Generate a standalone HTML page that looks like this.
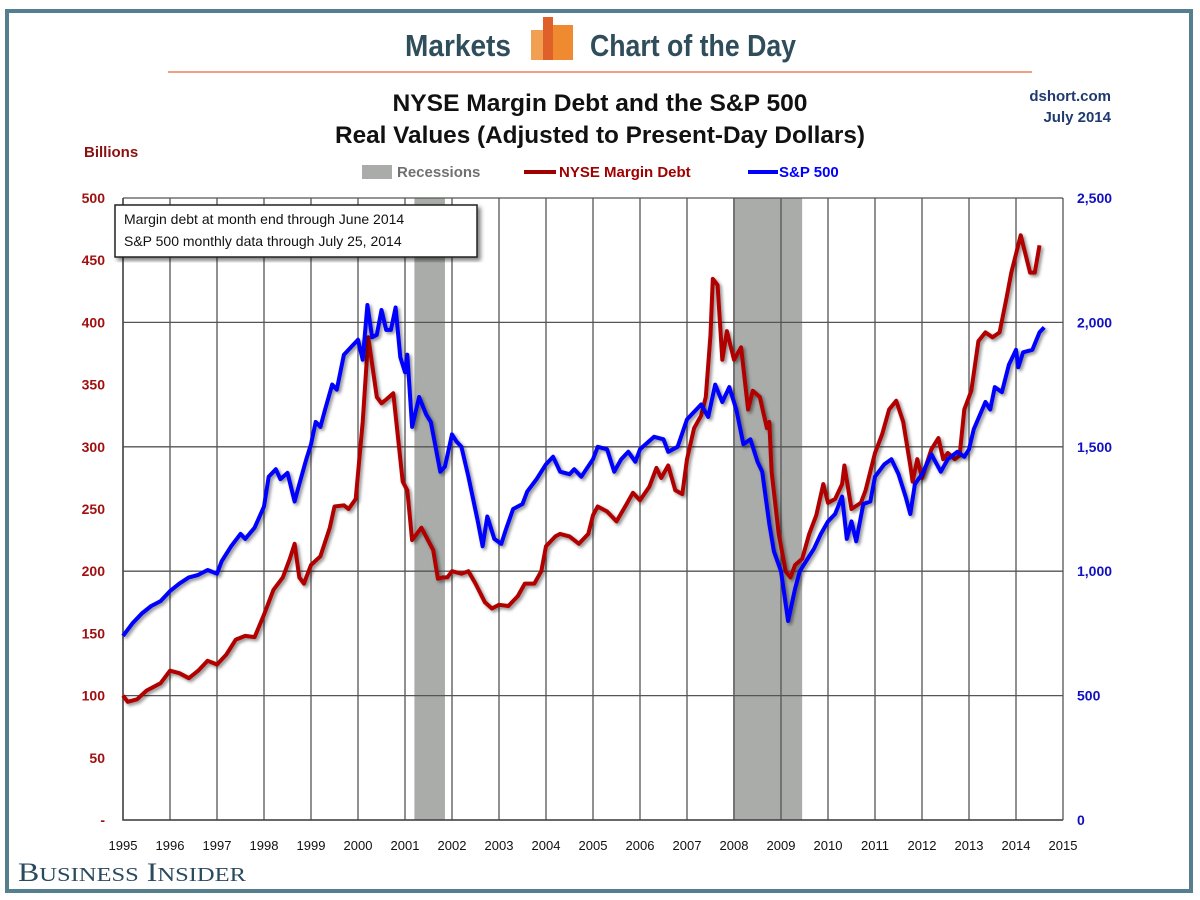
<!DOCTYPE html>
<html><head><meta charset="utf-8"><style>
html,body{margin:0;padding:0;background:#fff;}
svg{display:block;font-family:"Liberation Sans",sans-serif;}
</style></head><body>
<svg id="chart" width="1200" height="900" viewBox="0 0 1200 900" xmlns="http://www.w3.org/2000/svg">
<defs>
<filter id="sh" x="-5%" y="-5%" width="110%" height="110%"><feDropShadow dx="2" dy="2" stdDeviation="1.5" flood-color="#000" flood-opacity="0.45"/></filter>
<filter id="bsh"><feDropShadow dx="3" dy="3" stdDeviation="2" flood-color="#000" flood-opacity="0.5"/></filter>
</defs>
<rect x="7" y="11" width="1184" height="880" fill="#fff" stroke="#557f8f" stroke-width="4"/>
<text x="458" y="56" font-size="31" font-weight="bold" fill="#2f4d5a" text-anchor="middle" textLength="106" lengthAdjust="spacingAndGlyphs">Markets</text>
<g>
<rect x="531" y="30" width="18" height="30" fill="#f0a050"/>
<rect x="543" y="17" width="10" height="43" fill="#e0602a"/>
<rect x="553" y="25" width="20" height="35" fill="#f08a30"/>
</g>
<text x="693" y="56" font-size="31" font-weight="bold" fill="#2f4d5a" text-anchor="middle" textLength="206" lengthAdjust="spacingAndGlyphs">Chart of the Day</text>
<line x1="168" y1="72" x2="1032" y2="72" stroke="#f0a080" stroke-width="2"/>
<text x="600" y="111" font-size="24" font-weight="bold" fill="#111" text-anchor="middle" textLength="415" lengthAdjust="spacingAndGlyphs">NYSE Margin Debt and the S&amp;P 500</text>
<text x="600" y="143" font-size="24" font-weight="bold" fill="#111" text-anchor="middle" textLength="530" lengthAdjust="spacingAndGlyphs">Real Values (Adjusted to Present-Day Dollars)</text>
<text x="1111" y="101" font-size="15" font-weight="bold" fill="#1f3a6e" text-anchor="end">dshort.com</text>
<text x="1111" y="122" font-size="15" font-weight="bold" fill="#1f3a6e" text-anchor="end">July 2014</text>
<text x="84" y="157" font-size="15" font-weight="bold" fill="#8b1010">Billions</text>
<g>
<rect x="362" y="165" width="30" height="14" fill="#a9aca8"/>
<text x="397" y="177" font-size="15" font-weight="bold" fill="#707070">Recessions</text>
<line x1="524" y1="172" x2="556" y2="172" stroke="#a00000" stroke-width="4"/>
<text x="559" y="177" font-size="15" font-weight="bold" fill="#a00000">NYSE Margin Debt</text>
<line x1="748" y1="172" x2="778" y2="172" stroke="#0000ff" stroke-width="4"/>
<text x="779" y="177" font-size="15" font-weight="bold" fill="#0000ff">S&amp;P 500</text>
</g>
<g id="plot"></g>
<g>
<rect x="115" y="205" width="362" height="52" fill="#fff" stroke="#222" stroke-width="1.5" filter="url(#bsh)"/>
<text x="124" y="224" font-size="14" fill="#111">Margin debt at month end through June 2014</text>
<text x="124" y="246" font-size="14" fill="#111">S&amp;P 500 monthly data through July 25, 2014</text>
</g>
<text x="18" y="881" font-family="'Liberation Serif',serif" font-size="26" fill="#2a4a5e" textLength="228" lengthAdjust="spacingAndGlyphs">B<tspan font-size="20">USINESS</tspan> I<tspan font-size="20">NSIDER</tspan></text>
</svg>
<script>
const years=[1995,1996,1997,1998,1999,2000,2001,2002,2003,2004,2005,2006,2007,2008,2009,2010,2011,2012,2013,2014,2015];
const leftTicks=[0,50,100,150,200,250,300,350,400,450,500];
const rightTicks=[0,500,1000,1500,2000,2500];
const recessionStart=[2001.2,2007.98];
const recessionEnd=[2001.85,2009.45];
const debtDates=[1995.0,1995.1,1995.3,1995.5,1995.8,1996.0,1996.2,1996.4,1996.6,1996.8,1997.0,1997.2,1997.4,1997.6,1997.8,1998.0,1998.2,1998.4,1998.55,1998.65,1998.75,1998.85,1999.0,1999.2,1999.4,1999.5,1999.7,1999.8,1999.95,2000.1,2000.22,2000.4,2000.5,2000.6,2000.75,2000.95,2001.05,2001.15,2001.35,2001.6,2001.7,2001.8,2001.9,2002.0,2002.2,2002.35,2002.5,2002.7,2002.85,2003.0,2003.2,2003.4,2003.55,2003.75,2003.9,2004.0,2004.2,2004.3,2004.5,2004.7,2004.9,2005.0,2005.1,2005.3,2005.5,2005.7,2005.85,2006.0,2006.2,2006.35,2006.45,2006.6,2006.75,2006.9,2007.0,2007.15,2007.3,2007.4,2007.5,2007.55,2007.65,2007.75,2007.85,2008.0,2008.15,2008.3,2008.4,2008.55,2008.7,2008.75,2008.8,2008.95,2009.1,2009.2,2009.3,2009.45,2009.6,2009.75,2009.9,2010.0,2010.15,2010.3,2010.35,2010.5,2010.7,2010.8,2011.0,2011.15,2011.3,2011.45,2011.6,2011.75,2011.8,2011.9,2012.0,2012.2,2012.35,2012.45,2012.55,2012.7,2012.8,2012.9,2013.05,2013.2,2013.35,2013.5,2013.65,2013.8,2013.9,2014.0,2014.1,2014.3,2014.4,2014.5];
const debtValues=[100,95,97,104,110,120,118,114,120,128,125,133,145,148,147,165,185,195,210,222,195,190,205,212,235,252,253,250,258,320,388,340,335,338,343,272,265,225,235,217,194,195,195,200,198,200,190,175,170,173,172,180,190,190,200,220,228,230,228,222,230,245,252,248,240,253,263,257,268,283,275,285,265,262,290,315,325,340,390,435,430,370,393,370,380,330,345,340,315,320,280,230,200,195,205,210,230,245,270,255,258,270,285,250,255,265,295,310,330,337,320,285,272,290,275,298,307,290,295,290,293,330,345,385,392,388,392,420,440,455,470,440,440,462];
const spxDates=[1995.0,1995.2,1995.4,1995.6,1995.8,1996.0,1996.2,1996.4,1996.6,1996.8,1997.0,1997.1,1997.3,1997.5,1997.6,1997.8,1998.0,1998.1,1998.25,1998.35,1998.5,1998.65,1998.75,1998.9,1999.0,1999.1,1999.2,1999.3,1999.45,1999.55,1999.7,1999.85,2000.0,2000.1,2000.2,2000.3,2000.4,2000.5,2000.6,2000.7,2000.8,2000.9,2001.0,2001.05,2001.15,2001.3,2001.45,2001.55,2001.75,2001.85,2002.0,2002.1,2002.2,2002.35,2002.55,2002.65,2002.75,2002.9,2003.05,2003.15,2003.3,2003.5,2003.6,2003.8,2004.0,2004.15,2004.3,2004.5,2004.6,2004.75,2005.0,2005.1,2005.3,2005.45,2005.6,2005.75,2005.9,2006.0,2006.3,2006.5,2006.6,2006.8,2007.0,2007.3,2007.45,2007.6,2007.75,2007.9,2008.05,2008.2,2008.35,2008.5,2008.6,2008.75,2008.85,2009.0,2009.15,2009.3,2009.4,2009.5,2009.7,2009.85,2010.0,2010.15,2010.3,2010.4,2010.5,2010.6,2010.75,2010.9,2011.0,2011.2,2011.35,2011.5,2011.65,2011.75,2011.85,2012.0,2012.2,2012.4,2012.55,2012.75,2012.9,2013.0,2013.1,2013.35,2013.45,2013.55,2013.7,2013.85,2014.0,2014.05,2014.15,2014.35,2014.5,2014.6];
const spxValues=[740,790,830,860,880,920,950,975,985,1005,990,1040,1100,1150,1130,1175,1260,1380,1410,1370,1395,1280,1350,1450,1510,1600,1580,1650,1750,1730,1870,1900,1930,1850,2070,1940,1950,2050,1970,1970,2060,1860,1800,1870,1580,1700,1630,1600,1400,1420,1550,1520,1500,1380,1200,1100,1220,1130,1110,1170,1250,1270,1320,1370,1430,1460,1400,1390,1410,1380,1450,1500,1490,1400,1450,1480,1440,1490,1540,1530,1480,1500,1610,1670,1620,1750,1680,1740,1650,1510,1530,1440,1400,1190,1080,1000,800,930,1000,1030,1090,1150,1200,1230,1300,1130,1200,1120,1270,1280,1380,1430,1450,1390,1300,1230,1350,1390,1470,1400,1450,1480,1460,1490,1570,1680,1650,1740,1720,1830,1890,1820,1880,1890,1960,1980];

const X0=123,X1=1063,Y0=820,Y1=198;
const xs=t=>X0+(t-1995)/20*(X1-X0);
const yL=v=>Y0-v/500*(Y0-Y1);
const yR=v=>Y0-v/2500*(Y0-Y1);
const NS="http://www.w3.org/2000/svg";
const plot=document.getElementById('plot');
function mk(tag,attrs,parent){const e=document.createElementNS(NS,tag);for(const k in attrs)e.setAttribute(k,attrs[k]);(parent||plot).appendChild(e);return e;}
for(let i=0;i<recessionStart.length;i++){
  const r=mk('rect',{x:xs(recessionStart[i]),y:Y1,width:xs(recessionEnd[i])-xs(recessionStart[i]),height:Y0-Y1,fill:'#a9aca8'});
  
  
}
years.forEach(y=>{
  const l=mk('line',{x1:xs(y),y1:Y1,x2:xs(y),y2:Y0,stroke:'#555','stroke-width':1.3});
  
  
  const t=mk('text',{x:xs(y),y:Y0+30,'font-size':13,fill:'#111','text-anchor':'middle'});
  t.textContent=y;
  
  
});
leftTicks.forEach(v=>{
  if(v%100===0){const g=mk('line',{x1:X0,y1:yL(v),x2:X1,y2:yL(v),stroke:'#555','stroke-width':1.3});
  
  }
  const t=mk('text',{x:105,y:yL(v)+5,'font-size':14,'font-weight':'bold',fill:'#a01010','text-anchor':'end'});
  t.textContent=v===0?'-':v;
  
  
});
rightTicks.forEach(v=>{
  const t=mk('text',{x:1077,y:yR(v)+5,'font-size':14,'font-weight':'bold',fill:'#1010c0'});
  t.textContent=v===0?'0':v.toLocaleString('en-US');
  
  
});
const ax=mk('polyline',{points:`${X0},${Y1} ${X0},${Y0} ${X1},${Y0}`,fill:'none',stroke:'#444','stroke-width':1.5});


const pd=debtDates.map((d,i)=>xs(d).toFixed(1)+','+yL(debtValues[i]).toFixed(1)).join(' ');
const l1=mk('polyline',{points:pd,fill:'none',stroke:'#b00000','stroke-width':4,'stroke-linejoin':'round',filter:'url(#sh)'});


const ps=spxDates.map((d,i)=>xs(d).toFixed(1)+','+yR(spxValues[i]).toFixed(1)).join(' ');
const l2=mk('polyline',{points:ps,fill:'none',stroke:'#0000ff','stroke-width':4,'stroke-linejoin':'round',filter:'url(#sh)'});


</script>
</body></html>
